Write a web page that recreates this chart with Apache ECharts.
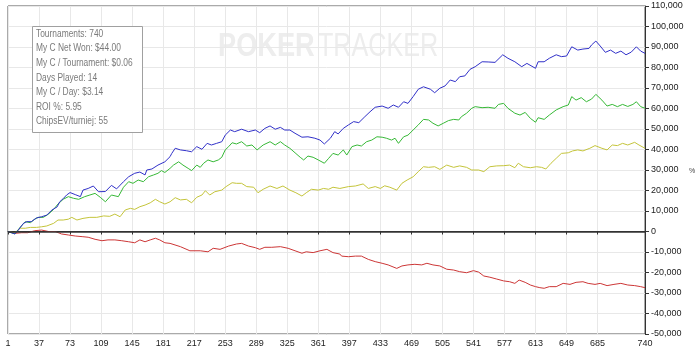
<!DOCTYPE html>
<html>
<head>
<meta charset="utf-8">
<script src="https://cdn.jsdelivr.net/npm/echarts@6/dist/echarts.min.js"></script>
<style>html,body{margin:0;padding:0;background:#fff}#c{width:700px;height:352px}</style>
</head>
<body>
<div id="c"></div>
<script>
// Tick labels
const xTicks = [1,37,73,109,145,181,217,253,289,325,361,397,433,469,505,541,577,613,649,685,740];
const yMin = -50000, yMax = 110000, yStep = 10000;

// Stats box text
const statsLines = ["Tournaments: 740","My C Net Won: $44.00","My C / Tournament: $0.06","Days Played: 14","My C / Day: $3.14","ROI %: 5.95","ChipsEV/turniej: 55"];

// Blue series (tournament #, chips)
const blueT = [1,9,13,19,23,28,34,40,46,52,58,61,65,69,73,79,85,88,94,100,106,114,121,127,135,141,148,154,160,162,168,175,183,189,191,195,201,208,214,220,226,232,237,243,249,253,259,264,272,280,288,293,299,305,311,317,322,328,334,342,349,357,363,368,375,380,384,390,396,402,408,415,421,427,435,442,448,454,460,465,471,477,483,491,496,502,508,514,520,525,531,537,543,551,558,566,575,581,589,597,603,613,616,623,629,637,643,649,655,662,668,675,678,683,688,694,700,706,712,718,724,730,735,740];
const blueV = [0,-1200,700,4000,4800,4800,6600,7200,8000,10500,12000,14500,16000,17800,19000,18000,17000,20200,21000,22200,19400,19500,22500,20800,24300,26700,28400,29000,27600,30000,30500,32400,34000,36500,38100,40600,39800,39400,38900,41400,40100,43000,42200,43000,43800,47000,49500,48700,49900,48700,49500,48200,50300,51500,49900,50800,49500,49500,47900,46000,46200,45500,44600,42700,45500,48700,47600,50300,52000,53600,53100,56000,58400,60600,61200,60100,61700,60600,63300,62500,65800,69400,70600,69400,67700,69900,71000,73900,73100,75500,75900,79100,80400,82800,82700,82500,86200,84500,82800,80400,82000,79600,82800,82800,84500,86200,85300,85600,90100,88500,89000,89300,91000,92900,90500,87400,88500,86900,88000,86200,87500,90100,88000,86900];

// Green series
const greenT = [1,9,15,21,27,32,36,42,48,54,59,65,71,77,83,90,96,102,108,114,121,129,135,141,146,152,158,164,170,175,179,183,189,193,199,204,210,214,220,224,228,233,239,245,249,253,257,261,266,272,278,284,290,297,305,311,317,322,328,334,340,344,349,355,361,368,373,378,384,390,394,400,406,411,417,423,429,435,440,446,450,454,460,465,471,477,483,489,494,500,506,512,518,524,527,533,539,543,551,558,566,570,576,581,589,595,601,607,613,616,623,629,637,645,651,655,660,666,672,678,683,690,696,702,708,714,720,726,730,735,740];
const greenV = [0,-1200,2000,4800,4300,6000,6900,6900,8500,10800,13400,15700,17000,16200,15700,17000,17800,18600,16700,14500,17800,17000,21600,24300,23500,25100,24300,26700,27600,28400,29700,28800,30800,32400,34000,32400,30800,29700,32400,31300,33300,34900,34000,34900,36200,39800,41400,43300,42700,43800,41700,42200,39800,42200,43800,42200,43800,42200,40600,38400,36200,34900,36800,36200,34900,33300,35700,38100,37300,39800,37300,41400,42200,41700,43800,44600,46200,46000,45500,44600,45500,43000,46200,47000,49500,52000,54700,54400,52800,51500,52800,54100,54700,54400,56000,57700,60100,60900,60400,60600,60100,62000,62500,60100,57700,56800,58100,55200,53300,55500,54700,56800,59300,60900,61700,65800,64100,65300,63300,64600,66900,64100,61200,62000,60900,62000,61000,62000,63300,60900,60100];

// Yellow series
const yellowT = [1,9,15,21,27,34,40,46,54,59,65,71,75,81,88,96,104,112,119,125,131,137,143,148,154,160,166,172,177,183,189,195,201,208,214,220,226,230,235,241,249,254,261,266,272,278,286,291,297,305,313,320,328,335,342,347,353,361,367,373,378,386,388,396,404,413,419,427,433,438,444,452,458,464,471,477,483,489,496,502,510,518,525,533,539,547,553,560,568,576,583,589,593,599,607,614,620,625,631,637,643,651,656,662,668,676,682,690,696,702,708,714,720,728,733,740];
const yellowV = [0,-600,1600,1600,2000,2000,2300,2700,4000,5600,5600,6000,6900,5600,6400,6900,6900,7600,7400,8500,7200,10500,11300,10800,12100,12900,14000,15700,14500,13400,14500,16500,15400,15700,14000,16700,17800,19900,17800,19400,20200,21900,23800,23500,23500,21900,21600,18900,20600,22200,21000,22200,20200,18900,17300,18900,20600,20200,21000,20600,21600,21000,20600,21900,22200,23200,21000,21900,21000,22300,21600,20200,23500,25100,26700,29200,31600,31300,31600,30300,32400,31300,32000,31300,30000,30000,29200,31600,32000,32100,32400,31100,33300,31600,31100,31600,31300,30500,33300,35700,38100,38400,39300,39800,39300,40600,41900,40600,39800,42200,41900,43000,42200,43500,42200,40600];

// Red series
const redT = [1,9,17,24,32,40,48,56,63,71,79,87,94,102,110,117,125,133,141,148,154,160,166,172,177,183,189,201,212,224,233,239,247,257,266,272,280,288,293,299,307,317,326,334,342,347,355,363,371,378,386,388,396,404,411,419,427,435,442,452,458,465,473,481,487,494,502,510,518,525,533,541,547,553,560,568,576,583,589,594,601,607,613,618,623,629,637,645,653,660,668,674,682,688,696,704,712,720,728,735,740];
const redV = [0,-900,-600,-600,400,700,0,0,-1200,-1700,-2200,-2500,-2800,-3800,-4500,-4100,-4100,-4500,-5000,-5500,-4100,-5000,-4100,-3300,-4100,-5500,-5800,-7400,-9400,-9400,-9900,-8200,-8700,-7100,-6100,-5800,-7100,-7900,-8700,-7700,-7700,-7400,-8200,-9400,-10600,-9900,-10300,-9400,-8700,-10300,-11000,-12000,-12300,-12000,-12000,-13600,-14700,-15500,-16300,-18000,-16800,-16300,-16000,-16300,-15500,-16300,-16800,-18400,-18800,-19600,-20100,-19100,-19800,-21700,-22300,-23200,-24100,-24500,-25300,-23700,-24800,-26100,-26900,-27400,-27700,-26900,-26900,-25300,-25800,-24800,-24500,-25300,-25800,-25300,-26400,-25800,-25300,-26100,-26400,-26900,-27400];

const pairs = (t, v) => t.map((x, i) => [x, v[i]]);
const FONT = 'Liberation Sans, Arial, sans-serif';

const chart = echarts.init(document.getElementById('c'), null, {renderer: 'canvas'});

const graphics = [
  {type: 'text', x: 218, y: 30, scaleX: 0.8, z: 0, silent: true,
   style: {text: 'POKER', font: 'bold 34px ' + FONT, fill: '#ededed'}},
  {type: 'text', x: 318, y: 30, scaleX: 0.74, z: 0, silent: true,
   style: {text: 'TRACKER', font: '34px ' + FONT, fill: '#ededed'}},
  {type: 'rect', shape: {x: 32.5, y: 26.5, width: 110, height: 106}, z: 100,
   style: {fill: '#fff', stroke: '#a0a0a0', lineWidth: 1}}
];
statsLines.forEach((s, i) => {
  graphics.push({type: 'text', x: 36, y: 34 + i * 14.6, scaleX: 0.84, z: 101,
    style: {text: s, font: '10px ' + FONT, fill: '#7a7a7a', verticalAlign: 'middle'}});
});
graphics.push({type: 'text', x: 689, y: 171, z: 101,
  style: {text: '%', font: '7px ' + FONT, fill: '#444', verticalAlign: 'middle'}});

const mkSeries = (name, data, color, extra) => Object.assign({
  name, type: 'line', data, symbol: 'none', showSymbol: false,
  lineStyle: {color, width: 1}, itemStyle: {color}, animation: false
}, extra || {});

chart.setOption({
  animation: false,
  grid: {left: 8, right: 55, top: 6, bottom: 18, show: true, borderColor: '#555', borderWidth: 1, backgroundColor: 'transparent'},
  xAxis: {
    type: 'value', min: 1, max: 740,
    axisLine: {show: true, lineStyle: {color: '#333'}},
    axisTick: {show: true, customValues: xTicks, length: 3, lineStyle: {color: '#333'}},
    axisLabel: {customValues: xTicks, fontFamily: FONT, fontSize: 9, color: '#222', margin: 5},
    splitLine: {show: true, lineStyle: {color: '#e8e8e8'}}
  },
  yAxis: {
    type: 'value', position: 'right', min: yMin, max: yMax, interval: yStep,
    axisLine: {show: true, lineStyle: {color: '#333'}},
    axisTick: {show: true, length: 4, lineStyle: {color: '#333'}},
    axisLabel: {fontFamily: FONT, fontSize: 9, color: '#222', margin: 6,
      formatter: v => v.toLocaleString('en-US')},
    splitLine: {show: true, lineStyle: {color: '#e8e8e8'}}
  },
  graphic: graphics,
  series: [
    mkSeries('Non-showdown', pairs(redT, redV), '#cc3636', {
      markLine: {silent: true, symbol: 'none', label: {show: false},
        lineStyle: {color: '#333', width: 1.5, type: 'solid'}, data: [{yAxis: 0}]}
    }),
    mkSeries('Showdown', pairs(yellowT, yellowV), '#c4c43a'),
    mkSeries('All-in EV', pairs(greenT, greenV), '#36b836'),
    mkSeries('Chips Won', pairs(blueT, blueV), '#3030c8')
  ]
});
</script>
</body>
</html>
